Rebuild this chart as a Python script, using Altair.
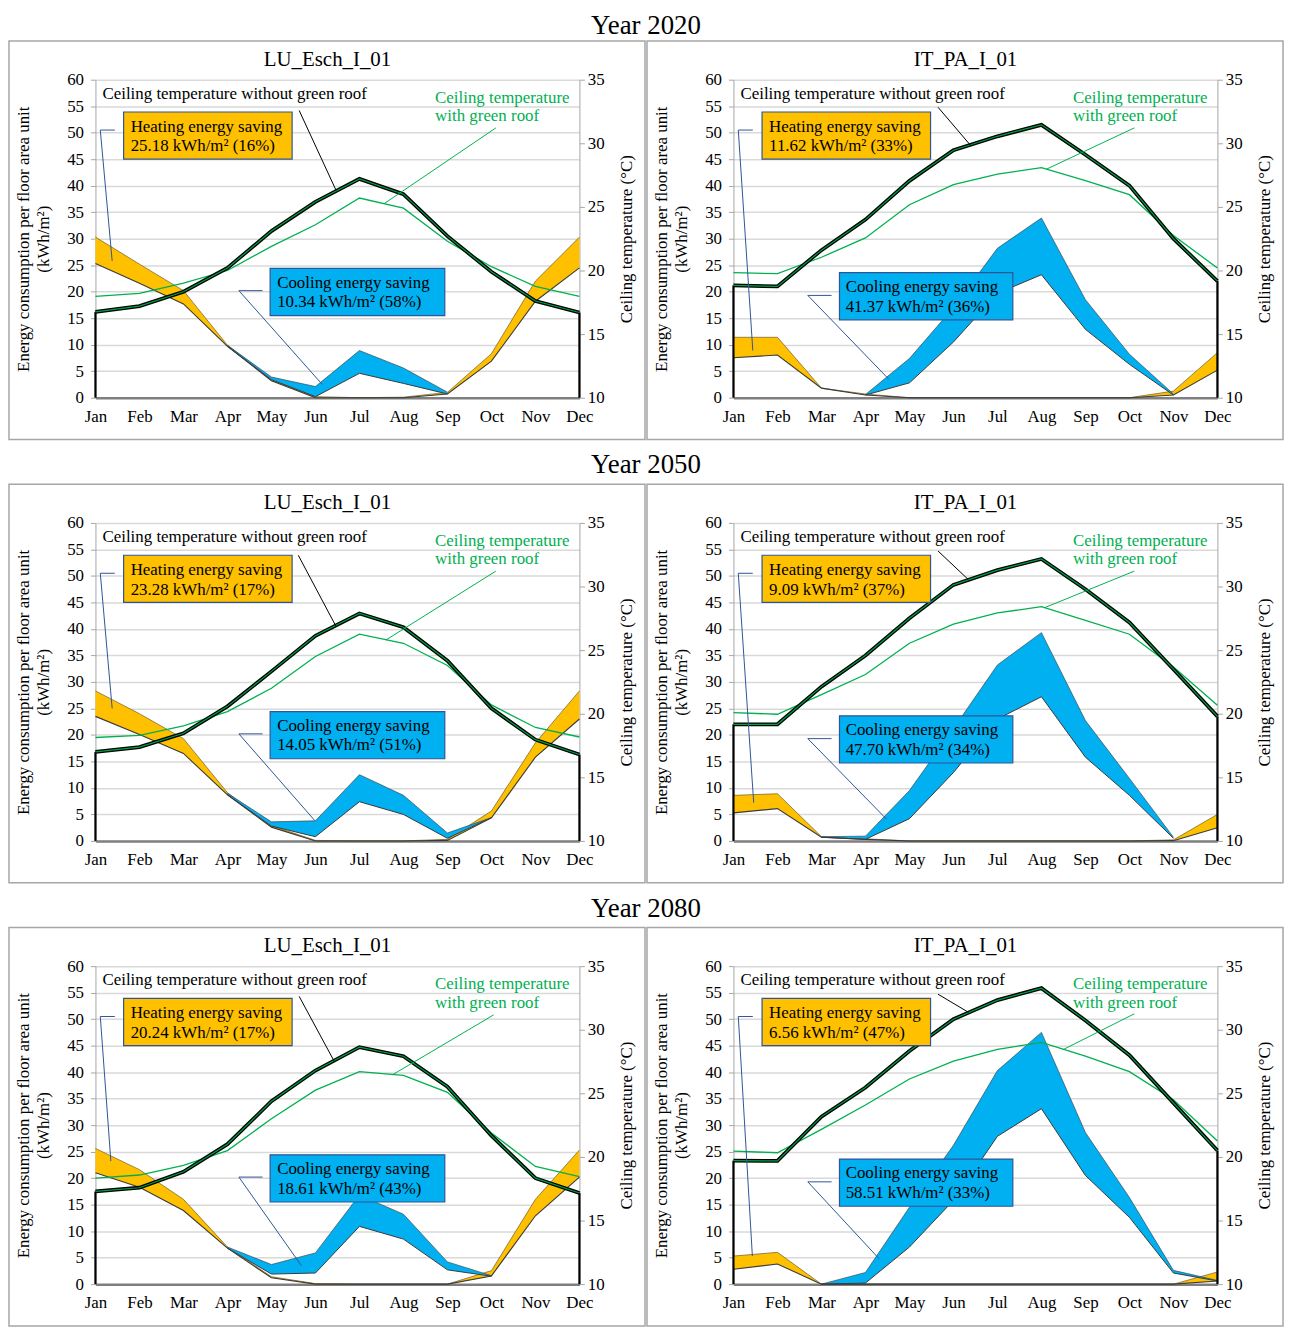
import altair as alt
import pandas as pd

MONTHS = ["Jan", "Feb", "Mar", "Apr", "May", "Jun", "Jul", "Aug", "Sep", "Oct", "Nov", "Dec"]
MONTH_IDX = list(range(12))

YEARS = ["Year 2020", "Year 2050", "Year 2080"]
SITES = ["LU_Esch_I_01", "IT_PA_I_01"]

# ---------------- LU_Esch_I_01, Year 2020 ----------------
LU20_T_NO = [16.75, 17.2, 18.33, 20.2, 23.1, 25.4, 27.2, 26.0, 22.7, 19.9, 17.6, 16.7]
LU20_T_GR = [17.96, 18.2, 19.0, 20.0, 21.9, 23.6, 25.7, 24.9, 22.3, 20.3, 18.75, 17.96]
LU20_HEAT_HI = [30.3, 25.2, 20.2, 9.9, 3.5, 0.2, 0, 0.1, 1.0, 8.3, 22.0, 30.3]
LU20_HEAT_LO = [25.3, 21.6, 17.7, 9.7, 3.2, 0.0, 0, 0, 0.7, 6.9, 18.2, 24.5]
LU20_COOL_M = [3, 4, 5, 6, 7, 8]
LU20_COOL_HI = [9.9, 3.9, 2.1, 8.9, 5.6, 1.05]
LU20_COOL_LO = [9.7, 3.4, 0.2, 4.6, 2.7, 0.7]
LU20_HEAT_TXT = ["Heating energy saving", "25.18 kWh/m² (16%)"]
LU20_COOL_TXT = ["Cooling energy saving", "10.34 kWh/m² (58%)"]

# ---------------- IT_PA_I_01, Year 2020 ----------------
IT20_T_NO = [18.83, 18.75, 21.6, 24.0, 27.05, 29.45, 30.55, 31.45, 29.1, 26.67, 22.5, 19.17]
IT20_T_GR = [19.83, 19.75, 21.04, 22.56, 25.17, 26.75, 27.58, 28.08, 27.06, 25.96, 22.75, 20.2]
IT20_HEAT_HI = [11.4, 11.4, 1.8, 0.7, 0, 0, 0, 0, 0, 0, 1.25, 8.5]
IT20_HEAT_LO = [7.55, 8.05, 1.8, 0.5, 0, 0, 0, 0, 0, 0, 0.5, 5.2]
IT20_COOL_M = [3, 4, 5, 6, 7, 8, 9, 10]
IT20_COOL_HI = [0.6, 7.4, 17.0, 28.2, 33.9, 18.5, 8.2, 0.7]
IT20_COOL_LO = [0.5, 2.8, 10.5, 19.7, 23.2, 12.9, 6.3, 0.5]
IT20_HEAT_TXT = ["Heating energy saving", "11.62 kWh/m² (33%)"]
IT20_COOL_TXT = ["Cooling energy saving", "41.37 kWh/m² (36%)"]

# ---------------- LU_Esch_I_01, Year 2050 ----------------
LU50_T_NO = [17.0, 17.38, 18.46, 20.58, 23.33, 26.13, 27.88, 26.8, 24.17, 20.42, 17.96, 16.79]
LU50_T_GR = [18.13, 18.29, 19.04, 20.17, 22.0, 24.5, 26.25, 25.54, 23.79, 20.69, 18.92, 18.17]
LU50_HEAT_HI = [28.3, 24.0, 19.3, 9.1, 2.9, 0.1, 0, 0, 0.3, 5.65, 18.5, 28.3]
LU50_HEAT_LO = [23.5, 20.1, 16.5, 8.7, 2.6, 0, 0, 0, 0.1, 4.35, 15.8, 23.0]
LU50_COOL_M = [3, 4, 5, 6, 7, 8, 9]
LU50_COOL_HI = [9.0, 3.6, 3.8, 12.5, 8.6, 1.5, 4.4]
LU50_COOL_LO = [8.7, 2.8, 0.8, 7.4, 5.0, 0.5, 4.4]
LU50_HEAT_TXT = ["Heating energy saving", "23.28 kWh/m² (17%)"]
LU50_COOL_TXT = ["Cooling energy saving", "14.05 kWh/m² (51%)"]

# ---------------- IT_PA_I_01, Year 2050 ----------------
IT50_T_NO = [19.17, 19.17, 22.13, 24.58, 27.5, 30.13, 31.29, 32.17, 29.79, 27.17, 23.5, 19.79]
IT50_T_GR = [20.08, 19.96, 21.5, 23.08, 25.54, 27.04, 27.92, 28.42, 27.33, 26.25, 23.67, 20.67]
IT50_HEAT_HI = [8.6, 8.9, 0.8, 0.4, 0, 0, 0, 0, 0, 0, 0.2, 5.0]
IT50_HEAT_LO = [5.3, 6.1, 0.7, 0.3, 0, 0, 0, 0, 0, 0, 0.05, 2.5]
IT50_COOL_M = [2, 3, 4, 5, 6, 7, 8, 9, 10]
IT50_COOL_HI = [0.8, 0.9, 9.5, 21.2, 33.2, 39.3, 22.7, 11.8, 0.7]
IT50_COOL_LO = [0.7, 0.3, 4.2, 12.9, 23.0, 27.2, 15.8, 8.6, 0.5]
IT50_HEAT_TXT = ["Heating energy saving", "9.09 kWh/m² (37%)"]
IT50_COOL_TXT = ["Cooling energy saving", "47.70 kWh/m² (34%)"]

# ---------------- LU_Esch_I_01, Year 2080 ----------------
LU80_T_NO = [17.29, 17.58, 18.83, 21.0, 24.38, 26.79, 28.63, 27.92, 25.52, 21.67, 18.33, 17.17]
LU80_T_GR = [18.33, 18.58, 19.33, 20.5, 23.0, 25.25, 26.71, 26.42, 25.08, 21.88, 19.25, 18.46]
LU80_HEAT_HI = [25.6, 21.6, 16.0, 7.0, 1.4, 0.1, 0, 0, 0, 2.55, 16.0, 25.3]
LU80_HEAT_LO = [21.0, 18.3, 13.9, 6.8, 1.2, 0.0, 0, 0, 0, 1.55, 12.9, 20.2]
LU80_COOL_M = [3, 4, 5, 6, 7, 8, 9]
LU80_COOL_HI = [7.0, 3.7, 5.9, 16.8, 13.2, 4.2, 1.6]
LU80_COOL_LO = [6.8, 1.9, 2.1, 10.9, 8.5, 2.7, 1.5]
LU80_HEAT_TXT = ["Heating energy saving", "20.24 kWh/m² (17%)"]
LU80_COOL_TXT = ["Cooling energy saving", "18.61 kWh/m² (43%)"]

# ---------------- IT_PA_I_01, Year 2080 ----------------
IT80_T_NO = [19.71, 19.69, 23.17, 25.46, 28.33, 30.83, 32.33, 33.27, 30.73, 28.0, 24.25, 20.5]
IT80_T_GR = [20.46, 20.33, 22.17, 24.08, 26.13, 27.54, 28.46, 29.0, 27.92, 26.71, 24.5, 21.25]
IT80_HEAT_HI = [5.3, 6.0, 0, 0, 0, 0, 0, 0, 0, 0, 0, 2.3]
IT80_HEAT_LO = [2.8, 3.8, 0, 0, 0, 0, 0, 0, 0, 0, 0, 0.6]
IT80_COOL_M = [2, 3, 4, 5, 6, 7, 8, 9, 10, 11]
IT80_COOL_HI = [0, 2.2, 14.5, 26.2, 40.3, 47.5, 28.6, 16.35, 2.6, 0.7]
IT80_COOL_LO = [0, 0.2, 7.0, 15.8, 27.9, 33.1, 20.5, 12.6, 2.1, 0.6]
IT80_HEAT_TXT = ["Heating energy saving", "6.56 kWh/m² (47%)"]
IT80_COOL_TXT = ["Cooling energy saving", "58.51 kWh/m² (33%)"]

T_LINE_NO_LABEL = "Ceiling temperature without green roof"
T_LINE_GR_LABEL = ["Ceiling temperature", "with green roof"]

DATA = {
    ("LU", 2020): (LU20_T_NO, LU20_T_GR, LU20_HEAT_HI, LU20_HEAT_LO, LU20_COOL_M, LU20_COOL_HI, LU20_COOL_LO, LU20_HEAT_TXT, LU20_COOL_TXT),
    ("IT", 2020): (IT20_T_NO, IT20_T_GR, IT20_HEAT_HI, IT20_HEAT_LO, IT20_COOL_M, IT20_COOL_HI, IT20_COOL_LO, IT20_HEAT_TXT, IT20_COOL_TXT),
    ("LU", 2050): (LU50_T_NO, LU50_T_GR, LU50_HEAT_HI, LU50_HEAT_LO, LU50_COOL_M, LU50_COOL_HI, LU50_COOL_LO, LU50_HEAT_TXT, LU50_COOL_TXT),
    ("IT", 2050): (IT50_T_NO, IT50_T_GR, IT50_HEAT_HI, IT50_HEAT_LO, IT50_COOL_M, IT50_COOL_HI, IT50_COOL_LO, IT50_HEAT_TXT, IT50_COOL_TXT),
    ("LU", 2080): (LU80_T_NO, LU80_T_GR, LU80_HEAT_HI, LU80_HEAT_LO, LU80_COOL_M, LU80_COOL_HI, LU80_COOL_LO, LU80_HEAT_TXT, LU80_COOL_TXT),
    ("IT", 2080): (IT80_T_NO, IT80_T_GR, IT80_HEAT_HI, IT80_HEAT_LO, IT80_COOL_M, IT80_COOL_HI, IT80_COOL_LO, IT80_HEAT_TXT, IT80_COOL_TXT),
}

# ---------------- annotation layout (month index, energy units) ----------------
BOX_LAYOUT = {
    "LU": dict(heat_box=(0.64, 4.47, 53.9, 45.0), heat_txt=(0.80, 51.1, 47.4),
               cool_box=(3.97, 7.94, 24.4, 15.5), cool_txt=(4.13, 21.7, 18.0),
               heat_stub=(0.11, 0.44, 50.5), cool_stub=(3.26, 3.80, 20.2)),
    "IT": dict(heat_box=(0.65, 4.48, 53.9, 45.0), heat_txt=(0.81, 51.1, 47.4),
               cool_box=(2.41, 6.35, 23.6, 14.7), cool_txt=(2.55, 20.9, 17.2),
               heat_stub=(0.11, 0.44, 50.5), cool_stub=(1.69, 2.23, 19.3)),
}
LEADERS = {
    ("LU", 2020): dict(black=(4.63, 54.2, 5.47, 39.1), green=(9.1, 50.9, 6.56, 36.6), heat=(0.38, 25.8), cool=(5.15, 2.55)),
    ("IT", 2020): dict(black=(4.65, 54.8, 5.39, 47.6), green=(9.11, 50.9, 7.11, 43.1), heat=(0.44, 8.9), cool=(3.53, 3.5)),
    ("LU", 2050): dict(black=(4.61, 53.9, 5.46, 40.6), green=(9.1, 50.9, 6.6, 37.9), heat=(0.38, 25.0), cool=(4.99, 3.8)),
    ("IT", 2050): dict(black=(4.65, 54.7, 5.34, 49.3), green=(9.11, 50.9, 7.07, 44.0), heat=(0.46, 7.2), cool=(3.48, 4.1)),
    ("LU", 2080): dict(black=(4.63, 54.3, 5.43, 42.0), green=(9.05, 50.8, 6.75, 39.5), heat=(0.35, 23.2), cool=(4.68, 3.5)),
    ("IT", 2080): dict(black=(4.65, 54.7, 5.34, 51.3), green=(9.11, 51.0, 7.48, 44.2), heat=(0.43, 5.3), cool=(3.31, 4.8)),
}

W, H = 487, 320
FONT = "Liberation Serif"
GREEN = "#00B050"
HEAT = "#FFC000"
COOL = "#00B0F0"
NAVY = "#2F5597"
GRAYAX = "#A6A6A6"
FS = 17

month_expr = "[" + ",".join("'%s'" % m for m in MONTHS) + "][datum.value]"

X_AXIS = alt.Axis(values=MONTH_IDX, labelExpr=month_expr, title=None, ticks=False, grid=False,
                  domainColor="#7F7F7F", domainWidth=2.5, labelFont=FONT, labelFontSize=FS,
                  labelColor="black", labelPadding=11, labelFlush=False, labelOverlap=False)
X_SCALE = alt.Scale(domain=[0, 11], nice=False, zero=False)

E_SCALE = alt.Scale(domain=[0, 60], nice=False, zero=False)
E_AXIS = alt.Axis(values=list(range(0, 61, 5)), grid=True, gridColor="#D9D9D9", gridWidth=1.5,
                  tickColor=GRAYAX, tickSize=5, domainColor=GRAYAX, labelFont=FONT, labelFontSize=FS,
                  labelColor="black", labelPadding=7,
                  title=["Energy consumption per floor area unit", "(kWh/m²)"], titleFont=FONT,
                  titleFontSize=FS, titleFontWeight="normal", titleColor="black", titlePadding=14,
                  titleLineHeight=20)
T_SCALE = alt.Scale(domain=[10, 35], nice=False, zero=False)
T_AXIS = alt.Axis(orient="right", values=list(range(10, 36, 5)), grid=False, tickColor=GRAYAX, tickSize=5,
                  domainColor=GRAYAX, labelFont=FONT, labelFontSize=FS, labelColor="black", labelPadding=3,
                  title="Ceiling temperature (°C)", titleFont=FONT, titleFontSize=FS, titleFontWeight="normal",
                  titleColor="black", titlePadding=14, titleAngle=270, titleBaseline="top")


def X(f="m"):
    return alt.X(f"{f}:Q", scale=X_SCALE, axis=X_AXIS)


def YE(f):
    return alt.Y(f"{f}:Q", scale=E_SCALE, axis=E_AXIS)


def YA(f):
    return alt.Y(f"{f}:Q", scale=E_SCALE, axis=None)


def YT(f):
    return alt.Y(f"{f}:Q", scale=T_SCALE, axis=T_AXIS)


def panel(site, year):
    t_no, t_gr, h_hi, h_lo, c_m, c_hi, c_lo, h_txt, c_txt = DATA[(site, year)]
    lay = BOX_LAYOUT[site]
    ld = LEADERS[(site, year)]
    title = SITES[0] if site == "LU" else SITES[1]

    heat_df = pd.DataFrame({"m": MONTH_IDX, "hi": h_hi, "lo": h_lo})
    cool_df = pd.DataFrame({"m": c_m, "hi": c_hi, "lo": c_lo})
    t_df = pd.DataFrame({"m": MONTH_IDX, "no": t_no, "gr": t_gr, "base": [10] * 12})

    bands = alt.layer(
        alt.Chart(heat_df).mark_area(color=HEAT, opacity=1).encode(x=X(), y=YE("hi"), y2="lo"),
        alt.Chart(heat_df).mark_line(color="#6B5B2A", strokeWidth=0.7).encode(x=X(), y=YE("hi")),
        alt.Chart(cool_df).mark_area(color=COOL, opacity=1).encode(x=X(), y=YE("hi"), y2="lo"),
        alt.Chart(cool_df).mark_line(color="#3A4A55", strokeWidth=0.7).encode(x=X(), y=YE("hi")),
        alt.Chart(heat_df).mark_line(color="#3a3a3a", strokeWidth=1.1).encode(x=X(), y=YE("lo")),
        alt.Chart(cool_df).mark_line(color="#3a3a3a", strokeWidth=1.0).encode(x=X(), y=YE("lo")),
    )

    edges_df = t_df[t_df["m"].isin([0, 11])]
    temps = alt.layer(
        alt.Chart(edges_df).mark_rule(color="black", strokeWidth=2.2).encode(x=X(), y=YT("no"), y2="base"),
        alt.Chart(t_df).mark_line(color=GREEN, strokeWidth=1.3).encode(x=X(), y=YT("gr")),
        alt.Chart(t_df).mark_line(color="black", strokeWidth=3.8).encode(x=X(), y=YT("no")),
        alt.Chart(t_df).mark_line(color="#00A046", strokeWidth=1.2).encode(x=X(), y=YT("no")),
    )

    hb = lay["heat_box"]
    cb = lay["cool_box"]
    boxes_df = pd.DataFrame({"m": [hb[0], cb[0]], "m2": [hb[1], cb[1]], "v": [hb[2], cb[2]],
                             "v2": [hb[3], cb[3]], "c": [HEAT, COOL]})
    rules_df = pd.DataFrame([
        dict(m=ld["black"][0], v=ld["black"][1], m2=ld["black"][2], v2=ld["black"][3], c="black"),
        dict(m=ld["green"][0], v=ld["green"][1], m2=ld["green"][2], v2=ld["green"][3], c=GREEN),
        dict(m=lay["heat_stub"][0], v=lay["heat_stub"][2], m2=lay["heat_stub"][1], v2=lay["heat_stub"][2], c=NAVY),
        dict(m=lay["heat_stub"][0], v=lay["heat_stub"][2], m2=ld["heat"][0], v2=ld["heat"][1], c=NAVY),
        dict(m=lay["cool_stub"][0], v=lay["cool_stub"][2], m2=lay["cool_stub"][1], v2=lay["cool_stub"][2], c=NAVY),
        dict(m=lay["cool_stub"][0], v=lay["cool_stub"][2], m2=ld["cool"][0], v2=ld["cool"][1], c=NAVY),
    ])
    ht = lay["heat_txt"]
    ct = lay["cool_txt"]
    text_df = pd.DataFrame([
        dict(m=0.16, v=57.3, t=T_LINE_NO_LABEL, c="black"),
        dict(m=7.72, v=56.6, t=T_LINE_GR_LABEL[0], c=GREEN),
        dict(m=7.72, v=53.1, t=T_LINE_GR_LABEL[1], c=GREEN),
        dict(m=ht[0], v=ht[1], t=h_txt[0], c="black"),
        dict(m=ht[0], v=ht[2], t=h_txt[1], c="black"),
        dict(m=ct[0], v=ct[1], t=c_txt[0], c="black"),
        dict(m=ct[0], v=ct[2], t=c_txt[1], c="black"),
    ])
    one = pd.DataFrame({"k": [0]})
    annos = alt.layer(
        alt.Chart(rules_df).mark_rule(strokeWidth=1).encode(
            x=X(), y=YA("v"), x2="m2", y2="v2", color=alt.Color("c:N", scale=None)),
        alt.Chart(boxes_df).mark_rect(stroke=NAVY, strokeWidth=1.2).encode(
            x=X(), x2="m2", y=YA("v"), y2="v2", fill=alt.Fill("c:N", scale=None)),
        alt.Chart(text_df).mark_text(align="left", baseline="middle", font=FONT, fontSize=FS).encode(
            x=X(), y=YA("v"), text="t:N", color=alt.Color("c:N", scale=None)),
        alt.Chart(one).mark_text(text=title, font=FONT, fontSize=21, align="center", baseline="middle",
                                 color="black").encode(x=alt.value(W / 2 - 10), y=alt.value(-20)),
        alt.Chart(one).mark_rect(fillOpacity=0, fill="white", stroke="#A6A6A6", strokeWidth=1.5).encode(
            x=alt.value(-87), x2=alt.value(W + 66), y=alt.value(-39), y2=alt.value(H + 42)),
    )
    return alt.layer(bands, temps, annos).resolve_scale(y="independent").properties(width=W, height=H)


rows = []
for i, (yname, yr) in enumerate(zip(YEARS, [2020, 2050, 2080])):
    rows.append(alt.hconcat(panel("LU", yr), panel("IT", yr), spacing=0,
                            title=alt.TitleParams(yname, font=FONT, fontSize=27, fontWeight="normal",
                                                  anchor="middle", color="black",
                                                  offset=0 if i == 0 else 4)))

chart = alt.vconcat(*rows, spacing=11).properties(padding=0).configure_view(stroke=None)
chart.save("out.html", embed_options={"renderer": "svg", "actions": False})
